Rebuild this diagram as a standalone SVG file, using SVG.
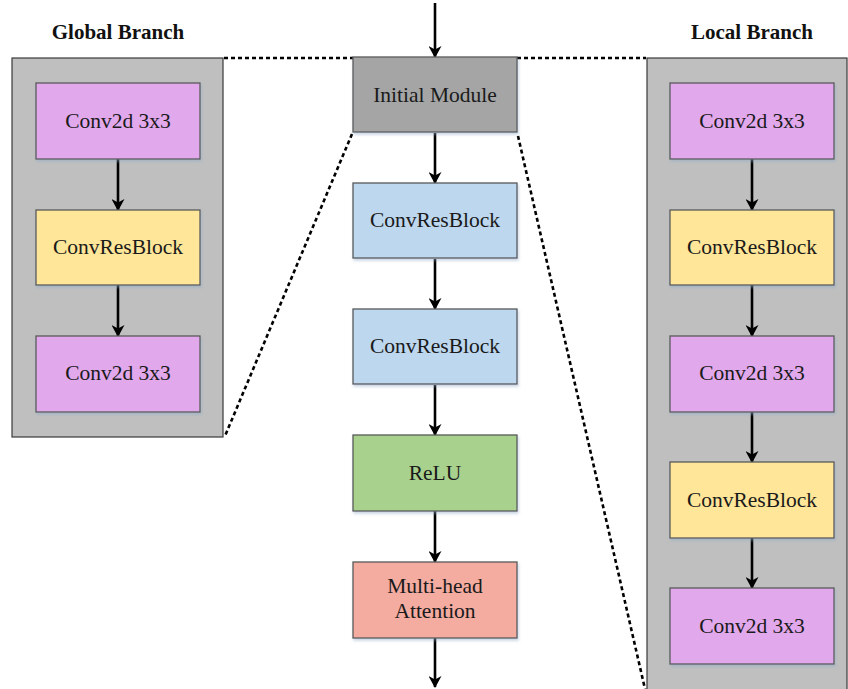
<svg xmlns="http://www.w3.org/2000/svg" width="848" height="689" viewBox="0 0 848 689">
  <defs>
    <marker id="arrow" markerWidth="12" markerHeight="13" refX="11" refY="6.5" orient="auto" markerUnits="userSpaceOnUse">
      <path d="M0,0 L12,6.5 L0,13 L3.5,6.5 Z" fill="#000"/>
    </marker>
    <filter id="shadow" x="-5%" y="-5%" width="115%" height="120%">
      <feDropShadow dx="1" dy="2" stdDeviation="1.5" flood-color="#8ea9c8" flood-opacity="0.5"/>
    </filter>
    <style>
      .panel { fill: #bfbfbf; stroke: #3a3a3a; stroke-width: 1.2; }
      .box { stroke: #595959; stroke-width: 1.3; filter: url(#shadow); }
      .conv { fill: #e2a8ec; }
      .res { fill: #ffe699; }
      .init { fill: #a5a5a5; }
      .blue { fill: #bdd7ee; }
      .relu { fill: #a9d18e; }
      .attn { fill: #f4aba0; }
      .label { font-family: "Liberation Serif", "Times New Roman", serif; font-size: 21.5px; fill: #1a1a1a; text-anchor: middle; }
      .title { font-family: "Liberation Serif", "Times New Roman", serif; font-size: 21px; font-weight: bold; fill: #111; text-anchor: middle; }
      .arrow { stroke: #000; stroke-width: 2.6; fill: none; marker-end: url(#arrow); }
      .dash { stroke: #000; stroke-width: 2.6; fill: none; stroke-dasharray: 4 3; }
    </style>
  </defs>

  <!-- branch titles -->
  <text class="title" x="118" y="39">Global Branch</text>
  <text class="title" x="752" y="39">Local Branch</text>

  <!-- branch panels -->
  <rect class="panel" x="12" y="58" width="211" height="379"/>
  <rect class="panel" x="647" y="58" width="200" height="640"/>

  <!-- zoom guides -->
  <g id="guides">
    <line class="dash" x1="224" y1="58" x2="353" y2="58"/>
    <line class="dash" x1="517" y1="58" x2="646" y2="58"/>
    <line class="dash" x1="352" y1="134" x2="225" y2="436"/>
    <line class="dash" x1="518" y1="136" x2="645" y2="689"/>
  </g>

  <!-- connectors -->
  <g id="connectors">
    <line class="arrow" x1="435" y1="3" x2="435" y2="57"/>
    <line class="arrow" x1="435" y1="133" x2="435" y2="183"/>
    <line class="arrow" x1="435" y1="259" x2="435" y2="309"/>
    <line class="arrow" x1="435" y1="385" x2="435" y2="435"/>
    <line class="arrow" x1="435" y1="511" x2="435" y2="562"/>
    <line class="arrow" x1="435" y1="638" x2="435" y2="687"/>

    <line class="arrow" x1="118" y1="159" x2="118" y2="210"/>
    <line class="arrow" x1="118" y1="285" x2="118" y2="336"/>

    <line class="arrow" x1="752" y1="159" x2="752" y2="210"/>
    <line class="arrow" x1="752" y1="285" x2="752" y2="336"/>
    <line class="arrow" x1="752" y1="412" x2="752" y2="462"/>
    <line class="arrow" x1="752" y1="538" x2="752" y2="588"/>
  </g>

  <!-- main column -->
  <g id="initial-module">
    <rect class="box init" x="353" y="57" width="164" height="75"/>
    <text class="label" x="435" y="102">Initial Module</text>
  </g>
  <g id="convresblock-1">
    <rect class="box blue" x="353" y="183" width="164" height="75"/>
    <text class="label" x="435" y="227">ConvResBlock</text>
  </g>
  <g id="convresblock-2">
    <rect class="box blue" x="353" y="309" width="164" height="75"/>
    <text class="label" x="435" y="353">ConvResBlock</text>
  </g>
  <g id="relu">
    <rect class="box relu" x="353" y="435" width="164" height="76"/>
    <text class="label" x="435" y="480">ReLU</text>
  </g>
  <g id="attention">
    <rect class="box attn" x="353" y="562" width="164" height="76"/>
    <text class="label" x="435" y="593">Multi-head</text>
    <text class="label" x="435" y="618">Attention</text>
  </g>

  <!-- global branch -->
  <g id="global-conv-1">
    <rect class="box conv" x="36" y="83" width="164" height="76"/>
    <text class="label" x="118" y="128">Conv2d 3x3</text>
  </g>
  <g id="global-res">
    <rect class="box res" x="36" y="210" width="164" height="75"/>
    <text class="label" x="118" y="254">ConvResBlock</text>
  </g>
  <g id="global-conv-2">
    <rect class="box conv" x="36" y="336" width="164" height="76"/>
    <text class="label" x="118" y="380">Conv2d 3x3</text>
  </g>

  <!-- local branch -->
  <g id="local-conv-1">
    <rect class="box conv" x="670" y="83" width="164" height="76"/>
    <text class="label" x="752" y="128">Conv2d 3x3</text>
  </g>
  <g id="local-res-1">
    <rect class="box res" x="670" y="210" width="164" height="75"/>
    <text class="label" x="752" y="254">ConvResBlock</text>
  </g>
  <g id="local-conv-2">
    <rect class="box conv" x="670" y="336" width="164" height="76"/>
    <text class="label" x="752" y="380">Conv2d 3x3</text>
  </g>
  <g id="local-res-2">
    <rect class="box res" x="670" y="462" width="164" height="76"/>
    <text class="label" x="752" y="507">ConvResBlock</text>
  </g>
  <g id="local-conv-3">
    <rect class="box conv" x="670" y="588" width="164" height="76"/>
    <text class="label" x="752" y="633">Conv2d 3x3</text>
  </g>
</svg>
